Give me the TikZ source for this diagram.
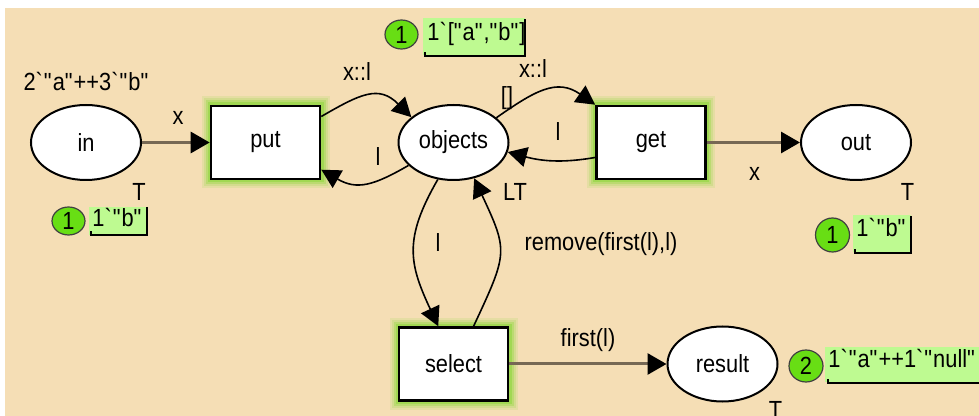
\documentclass[tikz,border=0pt]{standalone}
\usepackage{fontspec}
\setmainfont{Liberation Sans}[FakeStretch=0.88]
\usetikzlibrary{arrows.meta,shapes.geometric}
\definecolor{bg}{RGB}{245,222,181}
\definecolor{arcbrown}{RGB}{118,104,84}
\definecolor{glowbase}{RGB}{140,214,58}
\colorlet{glowA}{glowbase!15!bg}
\colorlet{glowB}{glowbase!32!bg}
\colorlet{glowC}{glowbase!55!bg}
\colorlet{glowD}{glowbase!80!bg}
\definecolor{tokgreen}{RGB}{104,222,20}
\definecolor{tokbox}{RGB}{190,250,145}
\newcommand\cpnbq{\textasciigrave}
\newcommand\cpndq{\textquotedbl}
\begin{document}
\begin{tikzpicture}[x=0.5pt,y=-0.5pt,
  every node/.style={font=\fontsize{12.4}{14}\selectfont, inner sep=0pt},
  place/.style={ellipse, draw=black, line width=1pt, fill=white,
    minimum width=55pt, minimum height=37.5pt},
  trans/.style={rectangle, draw=black, line width=1.3pt, fill=white,
    minimum width=54.5pt, minimum height=36.5pt,
    preaction={draw=glowA, line width=9.5pt},
    preaction={draw=glowB, line width=7.5pt},
    preaction={draw=glowC, line width=5.5pt},
    preaction={draw=glowD, line width=3.5pt}},
  tokcirc/.style={ellipse, draw=black!75, line width=0.6pt, fill=tokgreen},
  heavyarc/.style={draw=arcbrown, line width=1.5pt,
    -{Triangle[length=9.5pt,width=10.5pt,color=black]}},
  lightarc/.style={draw=black, line width=0.8pt,
    -{Triangle[length=9.5pt,width=10pt]}},
  bracketline/.style={draw=black, line width=0.8pt}
]
\useasboundingbox (0,0) rectangle (979,416);
\fill[white] (0,0) rectangle (979,416);
\fill[bg] (5,8) rectangle (979,416);

% places and transitions
\node[place] (in) at (86,142.5) {in};
\node[trans] (put) at (265.5,142.5) {put};
\node[place] (objects) at (453.5,142.5) {objects};
\node[trans] (get) at (651,142.5) {get};
\node[place] (out) at (856,142.5) {out};
\node[trans] (select) at (453.5,364) {select};
\node[place] (result) at (722.5,364) {result};

% arcs
\draw[heavyarc] (in) -- (put);
\draw[heavyarc] (get) -- (out);
\draw[heavyarc] (select) -- (result);
\draw[lightarc] (put.25) to[out=30,in=135,looseness=1.3] (objects.149);
\draw[lightarc] (objects.207) to[out=210,in=-30,looseness=1.2] (put.-26);
\draw[lightarc] (objects.30) to[out=35,in=145,looseness=1.2] (get.north west);
\draw[lightarc] (get.195) to[out=190,in=-15] (objects.-10);
\draw[lightarc] (objects.247) to[out=240,in=115,looseness=1.2] (select.112);
\draw[lightarc] (select.62) to[out=65,in=-65,looseness=1.4] (objects.-60);

% inscriptions
\node (initin) at (86.5,81) {2\cpnbq\cpndq a\cpndq++3\cpnbq\cpndq b\cpndq};
\node (xin) at (178,118) {x};
\node (tin) at (139,191.5) {T};
\node (xl1) at (357,72) {x::l};
\node (xl2) at (533,69) {x::l};
\node (empty) at (507,98) {[]};
\node (l1) at (378,157) {l};
\node (l2) at (558,132) {l};
\node (lt) at (515,192) {LT};
\node (l3) at (438,243) {l};
\node (rem) at (601,244) {remove(first(l),l)};
\node (xout) at (754.5,174) {x};
\node (tout) at (907.5,191.5) {T};
\node (fst) at (588,340) {first(l)};
\node (tres) at (775.5,410) {T};

% token markings
\fill[tokbox] (89,207) rectangle (147,235);
\draw[bracketline] (147,207) -- (147,235) -- (91,235) -- (91,231);
\node[anchor=base west] (mkin) at (92,227) {1\cpnbq\cpndq b\cpndq};
\node[tokcirc, minimum width=16.5pt, minimum height=14pt] (cin) at (68.5,221) {1};

\fill[tokbox] (423,18) rectangle (525,55);
\draw[bracketline] (525,19) -- (525,56) -- (425,56) -- (425,52);
\node[anchor=base west] (mkobj) at (427,41) {1\cpnbq[\cpndq a\cpndq,\cpndq b\cpndq]};
\node[tokcirc, minimum width=16.5pt, minimum height=14.5pt] (cobj) at (401.5,34.5) {1};

\fill[tokbox] (853,215) rectangle (911,252);
\draw[bracketline] (911,216) -- (911,253) -- (855,253) -- (855,249);
\node[anchor=base west] (mkout) at (856,237) {1\cpnbq\cpndq b\cpndq};
\node[tokcirc, minimum width=17pt, minimum height=17pt] (cout) at (832.5,235) {1};

\fill[tokbox] (825,347) rectangle (979,382);
\draw[bracketline] (979,383) -- (828,383) -- (828,379);
\node[anchor=base west] (mkres) at (828,368) {1\cpnbq\cpndq a\cpndq++1\cpnbq\cpndq null\cpndq};
\node[tokcirc, minimum width=17pt, minimum height=16pt] (cres) at (806,366) {2};
\end{tikzpicture}
\end{document}
